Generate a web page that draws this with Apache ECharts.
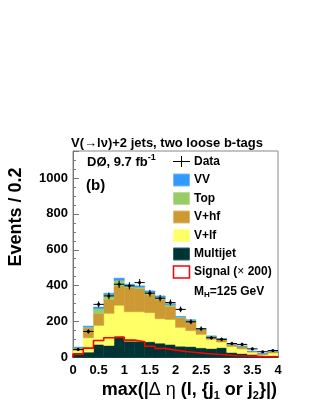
<!DOCTYPE html>
<html><head><meta charset="utf-8">
<script src="https://cdn.jsdelivr.net/npm/echarts@6/dist/echarts.min.js"></script>
<style>html,body{margin:0;padding:0;background:#fff}#c{width:316px;height:409px}</style>
</head><body><div id="c"></div>
<script>
// bin edges of max|Δη| (bin width 0.2)
const binEdges = [0.0,0.2,0.4,0.6,0.8,1.0,1.2,1.4,1.6,1.8,2.0,2.2,2.4,2.6,2.8,3.0,3.2,3.4,3.6,3.8,4.0];
// stacked backgrounds (bottom to top)
const multijet = [20,30,73,67,119,91,91,88,80,73,63,61,54,50,55,28,22,17,8,10];
const vlf      = [20,80,106,179,172,164,164,162,136,139,105,89,75,51,31,33,26,13,7,15];
const vhf      = [12,54,65,78,108,135,129,102,108,73,54,53,26,14,14,9,12,3,5,8];
const topq     = [4,6,28,26,31,10,8,12,11,9,4,4,3,3,3,2,2,1,1,1];
const vv       = [2,5,9,8,12,8,7,7,8,6,3,3,2,2,2,1,2,1,1,1];
// signal (x200)
const signal   = [20,52,95,110,113,97,88,63,50,41,33,28,22,18,14,10,8,6,4,3];
// data and its errors
const dataVals = [45,145,296,343,408,399,417,358,330,306,268,199,160,110,101,78,73,48,32,39];
const dataErr  = [7,12,17,19,20,20,20,19,18,17,16,14,13,10,10,9,9,7,6,6];
const xTicks = [0,0.5,1,1.5,2,2.5,3,3.5,4];
const yTicks = [0,200,400,600,800,1000];

const F = '"Liberation Sans", Arial, Helvetica, sans-serif';
const chart = echarts.init(document.getElementById('c'), null, {renderer:'canvas'});
const nb = multijet.length;
const comps = [
  {name:'Multijet', vals:multijet, color:'#003333'},
  {name:'V+lf', vals:vlf, color:'#ffff66'},
  {name:'V+hf', vals:vhf, color:'#cc9933'},
  {name:'Top', vals:topq, color:'#99cc66'},
  {name:'VV', vals:vv, color:'#3399ff'}
];
const base = new Array(nb).fill(0);
const series = [];
comps.forEach(c => {
  const d = [];
  for (let i = 0; i < nb; i++) { d.push([binEdges[i], binEdges[i+1], base[i], base[i] + c.vals[i]]); base[i] += c.vals[i]; }
  series.push({
    type:'custom', name:c.name, data:d, xAxisIndex:0, yAxisIndex:0, silent:true, z:2,
    encode:{x:[0,1], y:[2,3]},
    renderItem:(params, api) => {
      const p1 = api.coord([api.value(0), api.value(3)]);
      const p2 = api.coord([api.value(1), api.value(2)]);
      return {type:'rect', shape:{x:p1[0], y:p1[1], width:p2[0]-p1[0], height:p2[1]-p1[1]},
        style:{fill:c.color, stroke:c.color, lineWidth:0.5}};
    }
  });
});
// signal step outline
const sigPts = [[binEdges[0], 0]];
for (let i = 0; i < nb; i++) { sigPts.push([binEdges[i], signal[i]]); sigPts.push([binEdges[i+1], signal[i]]); }
sigPts.push([binEdges[nb], 0]);
series.push({type:'line', data:sigPts, xAxisIndex:0, yAxisIndex:0, showSymbol:false, silent:true, z:3,
  lineStyle:{color:'#ff0000', width:1.6}, animation:false});
// data points with errors
const dd = [];
for (let i = 0; i < nb; i++) dd.push([binEdges[i], binEdges[i+1], dataVals[i], dataErr[i]]);
series.push({
  type:'custom', data:dd, xAxisIndex:0, yAxisIndex:0, silent:true, z:4, encode:{x:[0,1], y:2},
  renderItem:(params, api) => {
    const lo = api.value(0), hi = api.value(1), v = api.value(2), e = api.value(3);
    const c = (lo + hi) / 2;
    const a = api.coord([lo, v]), b = api.coord([hi, v]);
    const t = api.coord([c, v + e]), u = api.coord([c, v - e]);
    const m = api.coord([c, v]);
    return {type:'group', children:[
      {type:'line', shape:{x1:a[0], y1:a[1], x2:b[0], y2:b[1]}, style:{stroke:'#000', lineWidth:1}},
      {type:'line', shape:{x1:t[0], y1:t[1], x2:u[0], y2:u[1]}, style:{stroke:'#000', lineWidth:1}},
      {type:'circle', shape:{cx:m[0], cy:m[1], r:1.6}, style:{fill:'#000'}}
    ]};
  }
});

const txt = (x, y, text, size, extra) => Object.assign({type:'text', x:x, y:y, silent:true,
  style:Object.assign({text:text, font:'bold ' + size + 'px ' + F, fill:'#000', verticalAlign:'middle'}, extra || {})});
const legendRows = [
  {label:'VV', color:'#3399ff', border:'#77bbff', y:180},
  {label:'Top', color:'#99cc66', border:'#bbdd99', y:198.5},
  {label:'V+hf', color:'#cc9933', border:'#ddbb77', y:217},
  {label:'V+lf', color:'#ffff66', border:'#ffff99', y:235.5},
  {label:'Multijet', color:'#003333', border:'#336666', y:254}
];
const graphics = [];
graphics.push(txt(167, 143, 'V(\u2192l\u03bd)+2 jets, two loose b-tags', 13, {align:'center'}));
graphics.push({type:'text', x:87, y:162, silent:true, style:{
  text:'{m|D\u00d8, 9.7 fb}{s|-1}', verticalAlign:'middle',
  rich:{m:{font:'bold 13px ' + F, fill:'#000'}, s:{font:'bold 9px ' + F, fill:'#000', verticalAlign:'top', padding:[0,0,8,0]}}}});
graphics.push(txt(86, 186, '(b)', 15));
// legend: data
graphics.push({type:'line', silent:true, shape:{x1:173, y1:161.5, x2:190, y2:161.5}, style:{stroke:'#000', lineWidth:1}});
graphics.push({type:'line', silent:true, shape:{x1:181.5, y1:156, x2:181.5, y2:167}, style:{stroke:'#000', lineWidth:1}});
graphics.push(txt(194, 161.5, 'Data', 12));
legendRows.forEach(r => {
  graphics.push({type:'rect', silent:true, shape:{x:173.5, y:r.y - 6, width:16, height:12}, style:{fill:r.color, stroke:r.border, lineWidth:1}});
  graphics.push(txt(194, r.y, r.label, 12));
});
graphics.push({type:'rect', silent:true, shape:{x:173.5, y:266, width:16, height:12}, style:{fill:'#fff', stroke:'#ff0000', lineWidth:1.5}});
graphics.push({type:'text', x:194, y:272, silent:true, style:{text:'{b|Signal (}{r|\u00d7}{b| 200)}', verticalAlign:'middle',
  rich:{b:{font:'bold 12px ' + F, fill:'#000'}, r:{font:'12px ' + F, fill:'#000'}}}});
graphics.push({type:'text', x:194, y:291.5, silent:true, style:{text:'{b|M}{s|H}{b|=125 GeV}', verticalAlign:'middle',
  rich:{b:{font:'bold 12px ' + F, fill:'#000'}, s:{font:'bold 8px ' + F, fill:'#000', verticalAlign:'bottom', padding:[7,0,0,0]}}}});
// axis titles
graphics.push(txt(16, 217, 'Events / 0.2', 18, {align:'center'}));
graphics[graphics.length - 1].rotation = Math.PI / 2;
// x title: closing part drawn separately because braces are rich-text syntax
const xFont = 'bold 18px ' + F;
const mctx = document.createElement('canvas').getContext('2d');
mctx.font = xFont;
const tail = '}|)';
const tailW = mctx.measureText(tail).width;
graphics.push(txt(277, 390, tail, 18, {align:'right'}));
graphics.push({type:'text', x:277 - tailW, y:390, silent:true, style:{
  text:'{b|max(|}{g|\u0394 \u03b7}{b| (l, {j}{s|1}{b| or j}{s|2}', align:'right', verticalAlign:'middle',
  rich:{b:{font:xFont, fill:'#000'}, g:{font:'18px ' + F, fill:'#000'},
        s:{font:'bold 11px ' + F, fill:'#000', verticalAlign:'bottom', padding:[12,0,0,0]}}}});

const labelStyle = {fontFamily:F, fontWeight:'bold', fontSize:13, color:'#000'};
chart.setOption({
  animation:false,
  grid:{left:73, right:38, top:151, bottom:51.5, show:true, borderColor:'#888', borderWidth:1, backgroundColor:'#fff'},
  xAxis:[
    {type:'value', min:0, max:4, interval:0.5, axisLine:{show:true, lineStyle:{color:'#777'}},
     axisTick:{show:true, inside:true, length:6, lineStyle:{color:'#777'}},
     minorTick:{show:true, splitNumber:5, length:3, lineStyle:{color:'#777'}},
     splitLine:{show:false},
     axisLabel:Object.assign({margin:6, formatter:v => xTicks.indexOf(v) >= 0 ? String(v) : ''}, labelStyle)}
  ],
  yAxis:[
    {type:'value', min:0, max:1150, interval:200, position:'left', axisLine:{show:true, lineStyle:{color:'#777'}},
     axisTick:{show:true, inside:true, length:6, lineStyle:{color:'#777'}},
     splitLine:{show:false},
     axisLabel:Object.assign({margin:5, formatter:v => yTicks.indexOf(v) >= 0 ? String(v) : ''}, labelStyle)},
    {type:'value', min:0, max:1150, interval:50, position:'left', axisLine:{show:false},
     axisTick:{show:true, inside:true, length:3, lineStyle:{color:'#777'}},
     splitLine:{show:false}, axisLabel:{show:false}}
  ],
  series:series,
  graphic:graphics
});
</script></body></html>
